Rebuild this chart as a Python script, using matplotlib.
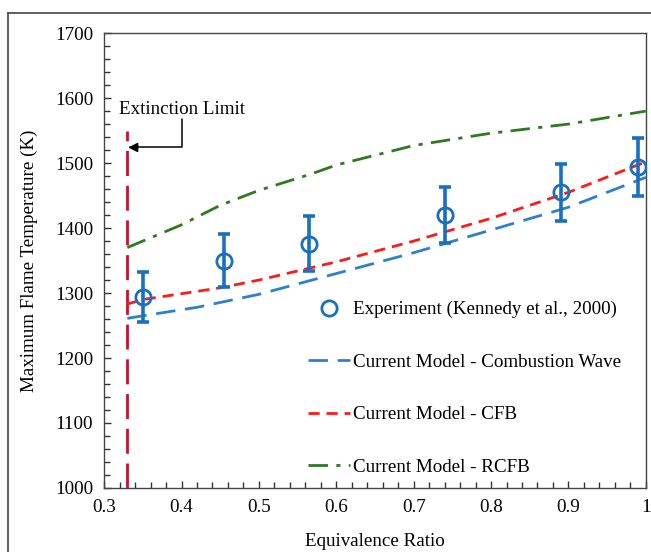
import numpy as np
import matplotlib
matplotlib.use("Agg")
import matplotlib.pyplot as plt
from matplotlib.lines import Line2D

plt.rcParams['font.family'] = ['Liberation Serif', 'DejaVu Serif']

# Experiment (Kennedy et al., 2000)
phi_exp = [0.35, 0.455, 0.565, 0.74, 0.89, 0.99]
T_exp = [1294, 1350, 1376, 1420, 1455, 1494]
T_err = [38, 41, 42, 43, 44, 45]

# Current model - combustion wave
phi_cw = [0.33, 0.35, 0.42, 0.5, 0.6, 0.7, 0.8, 0.9, 1.0]
T_cw = [1261, 1265, 1278, 1298, 1330, 1362, 1397, 1432, 1478]

# Current model - CFB
phi_cfb = [0.33, 0.35, 0.45, 0.5, 0.6, 0.7, 0.8, 0.9, 1.0]
T_cfb = [1283, 1290, 1308, 1320, 1348, 1380, 1415, 1455, 1502]

# Current model - RCFB
phi_rcfb = [0.33, 0.4, 0.45, 0.5, 0.567, 0.6, 0.7, 0.8, 0.9, 1.0]
T_rcfb = [1370, 1405, 1435, 1458, 1483, 1497, 1527, 1546, 1560, 1580]

# extinction limit
phi_ext = 0.33
T_ext = [1000, 1550]

fs = 13.7
fig = plt.figure(figsize=(6.51, 5.52), dpi=100)
ax = fig.add_axes([0.16, 0.116, 0.832, 0.824])

ax.plot([phi_ext, phi_ext], T_ext, color='#c8102e', lw=2, dashes=(9, 3.5), zorder=2)

ax.errorbar(phi_exp, T_exp, yerr=T_err, fmt='none', ecolor='#1a6fbf', elinewidth=2.6,
            capsize=4, capthick=2.6, zorder=4)
ax.plot(phi_exp, T_exp, 'o', mfc='none', mec='#1a6fbf', mew=2, ms=11, zorder=5,
        label='Experiment (Kennedy et al., 2000)')

ax.plot(phi_cw, T_cw, color='#2f7fcf', lw=2, dashes=(7, 3.5), zorder=3,
        label='Current Model - Combustion Wave')
ax.plot(phi_cfb, T_cfb, color='#ff1a1a', lw=2, dashes=(4, 2.5), zorder=3,
        label='Current Model - CFB')
ax.plot(phi_rcfb, T_rcfb, color='#2e7a1f', lw=2, dashes=(7, 3, 1.5, 3), zorder=3,
        label='Current Model - RCFB')

# annotation
ax.text(0.40, 1583, 'Extinction Limit', ha='center', va='center', fontsize=fs)
ax.annotate('', xy=(0.331, 1524), xytext=(0.40, 1568),
            arrowprops=dict(arrowstyle='-|>', connectionstyle='angle,angleA=90,angleB=0,rad=0',
                            color='black', lw=1.1, shrinkA=0, shrinkB=0, mutation_scale=14))

ax.set_xlim(0.3, 1.0)
ax.set_ylim(1000, 1700)
ax.set_xticks(np.arange(0.3, 1.01, 0.1))
ax.set_xticklabels(['0.3', '0.4', '0.5', '0.6', '0.7', '0.8', '0.9', '1'])
ax.set_xticks(np.arange(0.3, 1.001, 0.02), minor=True)
ax.set_yticks(np.arange(1000, 1701, 100))
ax.set_yticks(np.arange(1000, 1701, 20), minor=True)
ax.tick_params(which='both', direction='in', labelsize=fs, top=False, right=False, color='#333333')
ax.tick_params(which='major', length=5, width=1, pad=8)
ax.tick_params(which='minor', length=4, width=1)
for s in ax.spines.values():
    s.set_color('#444444')
    s.set_linewidth(1)

ax.set_xlabel('Equivalence Ratio', fontsize=fs, labelpad=12)
ax.set_ylabel('Maximum Flame Temperature (K)', fontsize=fs, labelpad=12)

leg = ax.legend(loc='upper left', bbox_to_anchor=(0.376, 0.411), frameon=False, fontsize=fs,
                handlelength=2.2, handletextpad=0.15, labelspacing=1.85, borderpad=0,
                borderaxespad=0)

# outer frame of the picture
fig.add_artist(Line2D([8 / 651, 8 / 651], [0, 1 - 13 / 552], color='#444444', lw=1.2))
fig.add_artist(Line2D([8 / 651, 1], [1 - 13 / 552, 1 - 13 / 552], color='#444444', lw=1.2))

fig.savefig('out.png', dpi=100)
